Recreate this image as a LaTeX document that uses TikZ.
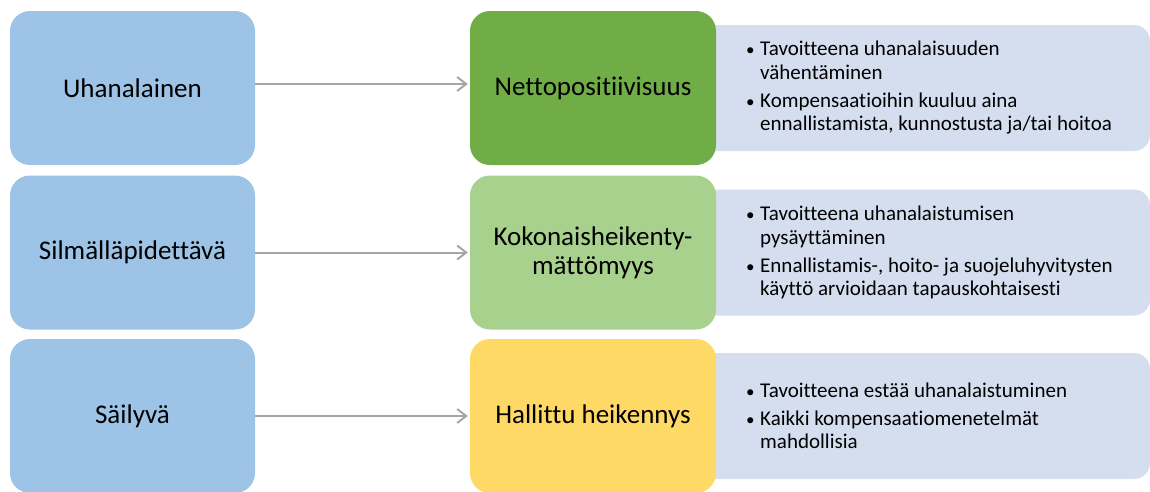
\documentclass[tikz,border=0pt]{standalone}
\usepackage{fontspec}
\setmainfont{Carlito}[Ligatures={NoCommon}]
\usetikzlibrary{arrows.meta}
\definecolor{leftblue}{HTML}{9DC3E6}
\definecolor{dgreen}{HTML}{70AD47}
\definecolor{lgreen}{HTML}{A9D18E}
\definecolor{yell}{HTML}{FFD966}
\definecolor{panelc}{HTML}{D5DEEF}
\definecolor{arrowc}{HTML}{A6A6A6}
\newcommand\bitem[1]{\par\hangindent=14pt\hangafter=1\noindent\makebox[14pt][l]{\fontsize{17}{17}\selectfont\textbullet}#1}
\newcommand\ptextbox[1]{\parbox{400pt}{\fontsize{21}{23.5}\selectfont\setlength{\parskip}{4.5pt}\setlength{\parindent}{0pt}#1}}
\begin{document}
\begin{tikzpicture}[x=1pt,y=-1pt,
  box/.style={rounded corners=20pt, minimum width=245pt, minimum height=154pt, inner sep=0pt, align=center, font=\fontsize{27}{29}\selectfont},
  catbox/.style={box, fill=leftblue},
  panel/.style={fill=panelc, rounded corners=16pt, minimum width=550pt, minimum height=126pt, inner sep=0pt},
  ptext/.style={anchor=west, inner sep=0pt},
  conn/.style={draw=arrowc, line width=2pt, -{Straight Barb[length=9pt,width=14pt,line width=2pt]}, shorten >=2pt}
]
\useasboundingbox (0,0) rectangle (1150,491);

% right panels (behind middle boxes)
\node[panel] (p1) at (875,88) {};
\node[panel] (p2) at (875,252.5) {};
\node[panel] (p3) at (875,416) {};

% left category boxes
\node[catbox] (l1) at (132.5,88) {Uhanalainen};
\node[catbox] (l2) at (132.5,252.5) {Silmälläpidettävä};
\node[catbox] (l3) at (132.5,416) {Säilyvä};

% middle boxes
\node[box, fill=dgreen, minimum width=246pt] (m1) at (593,88) {Nettopositiivisuus};
\node[box, fill=lgreen, minimum width=246pt] (m2) at (593,252.5) {Kokonaisheikenty-\\mättömyys};
\node[box, fill=yell, minimum width=246pt] (m3) at (593,416) {Hallittu heikennys};

% connectors
\draw[conn] ([yshift=4pt]l1.east) -- ([yshift=4pt]m1.west);
\draw[conn] (l2.east) -- (m2.west);
\draw[conn] (l3.east) -- (m3.west);

% panel texts
\node[ptext] (t1) at (746,88) {\ptextbox{\bitem{Tavoitteena uhanalaisuuden\newline vähentäminen}\bitem{Kompensaatioihin kuuluu aina\newline ennallistamista, kunnostusta ja/tai hoitoa}}};
\node[ptext] (t2) at (746,252.5) {\ptextbox{\bitem{Tavoitteena uhanalaistumisen\newline pysäyttäminen}\bitem{Ennallistamis-, hoito- ja suojeluhyvitysten\newline käyttö arvioidaan tapauskohtaisesti}}};
\node[ptext] (t3) at (746,416) {\ptextbox{\bitem{Tavoitteena estää uhanalaistuminen}\bitem{Kaikki kompensaatiomenetelmät\newline mahdollisia}}};
\end{tikzpicture}
\end{document}
